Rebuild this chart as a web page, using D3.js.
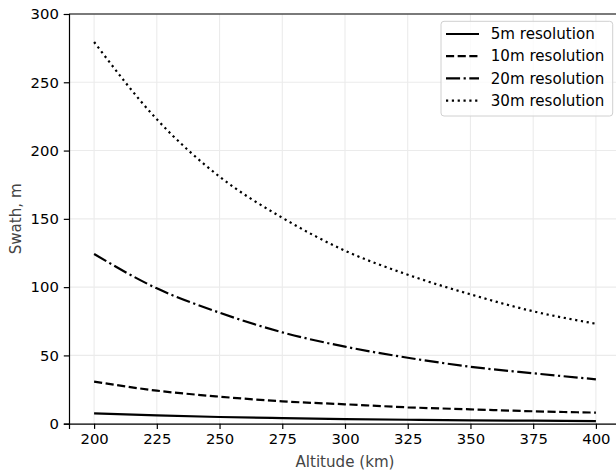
<!DOCTYPE html>
<html>
<head>
<meta charset="utf-8">
<script src="https://cdn.jsdelivr.net/npm/d3@7"></script>
<style>
  body { margin: 0; background: #fff; }
  svg { display: block; font-family: "DejaVu Sans", sans-serif; }
</style>
</head>
<body>
<div id="container"></div>
<script>
// Data
const altitudes = [200, 225, 250, 275, 300, 325, 350, 375, 400];
const swath5m = [7.6, 6.1, 4.9, 4.1, 3.4, 2.9, 2.5, 2.2, 1.9];
const swath10m = [30.8, 24.2, 19.8, 16.4, 14.2, 12.0, 10.5, 9.1, 8.1];
const swath20m = [124.3, 99.1, 81.3, 66.9, 56.4, 48.3, 41.7, 36.9, 32.5];
const swath30m = [279.5, 222.9, 180.9, 150.8, 126.7, 109.1, 94.7, 82.3, 73.2];
const seriesNames = ["5m resolution", "10m resolution", "20m resolution", "30m resolution"];
const xTicks = [200, 225, 250, 275, 300, 325, 350, 375, 400];
const yTicks = [0, 50, 100, 150, 200, 250, 300];

const width = 616;
const height = 473;
const marginTop = 14;
const marginRight = -5; // right spine falls just outside the picture
const marginBottom = 49.3;
const marginLeft = 69;
const tickFont = 14.8;
const textFont = 15.1;
const lw = 2.2;

// dash patterns, matplotlib style scaled by line width
const dashes = [
  null,
  [3.7 * lw, 1.6 * lw],
  [6.4 * lw, 1.6 * lw, 1 * lw, 1.6 * lw],
  [1 * lw, 1.65 * lw],
];

const series = [swath5m, swath10m, swath20m, swath30m].map((vals, i) => ({
  name: seriesNames[i],
  dash: dashes[i],
  points: vals.map((v, j) => ({ x: altitudes[j], y: v })),
}));

const svg = d3.create("svg").attr("width", width).attr("height", height);

const x = d3.scaleLinear()
  .domain([190, 410])
  .range([marginLeft, width - marginRight]);

const y = d3.scaleLinear()
  .domain([0, 300])
  .range([height - marginBottom, marginTop]);

// Grid
const grid = svg.append("g").attr("stroke", "#ebebeb").attr("stroke-width", 1.1);
grid.selectAll("line.v").data(xTicks).join("line")
  .attr("x1", (d) => x(d)).attr("x2", (d) => x(d))
  .attr("y1", y(0)).attr("y2", y(300));
grid.selectAll("line.h").data(yTicks).join("line")
  .attr("y1", (d) => y(d)).attr("y2", (d) => y(d))
  .attr("x1", x(190)).attr("x2", x(410));

// Lines (smooth curves through the read points)
const line = d3.line()
  .x((d) => x(d.x))
  .y((d) => y(d.y))
  .curve(d3.curveMonotoneX);
svg.append("g")
  .selectAll("path")
  .data(series)
  .join("path")
  .attr("fill", "none")
  .attr("stroke", "#000")
  .attr("stroke-width", lw)
  .attr("stroke-dasharray", (d) => (d.dash ? d.dash.join(",") : null))
  .attr("d", (d) => line(d.points));

// Axes
const xAxis = svg.append("g")
  .attr("transform", `translate(0,${y(0)})`)
  .call(d3.axisBottom(x).tickValues(xTicks).tickSize(5.2).tickPadding(5));
const yAxis = svg.append("g")
  .attr("transform", `translate(${marginLeft},0)`)
  .call(d3.axisLeft(y).tickValues(yTicks).tickSize(5.2).tickPadding(5));

[xAxis, yAxis].forEach((g) => {
  g.attr("font-family", null).attr("font-size", null);
  g.select(".domain").attr("stroke", "#000").attr("stroke-width", 1.2);
  g.selectAll(".tick line").attr("stroke", "#000").attr("stroke-width", 1.2);
  g.selectAll(".tick text")
    .attr("fill", "#000")
    .style("font-size", tickFont + "px");
});

// Top spine
svg.append("line")
  .attr("x1", x(190)).attr("x2", x(410))
  .attr("y1", y(300)).attr("y2", y(300))
  .attr("stroke", "#000").attr("stroke-width", 1.2);

// Axis labels
svg.append("text")
  .attr("x", (x(190) + x(410)) / 2)
  .attr("y", 466.7)
  .attr("text-anchor", "middle")
  .attr("fill", "#444")
  .style("font-size", textFont + "px")
  .text("Altitude (km)");

svg.append("text")
  .attr("transform", `translate(20.5,${(y(0) + y(300)) / 2}) rotate(-90)`)
  .attr("text-anchor", "middle")
  .attr("fill", "#444")
  .style("font-size", textFont + "px")
  .text("Swath, m");

// Legend
const legend = svg.append("g").attr("transform", "translate(441,21.3)");
legend.append("rect")
  .attr("width", 171.7).attr("height", 94.7)
  .attr("rx", 3)
  .attr("fill", "#fff").attr("fill-opacity", 0.8)
  .attr("stroke", "#d0d0d0").attr("stroke-width", 1);

const rows = legend.selectAll("g.row")
  .data(series)
  .join("g")
  .attr("transform", (d, i) => `translate(0,${12.7 + i * 22.2})`);
rows.append("line")
  .attr("x1", 5).attr("x2", 38)
  .attr("stroke", "#000").attr("stroke-width", lw)
  .attr("stroke-dasharray", (d) => (d.dash ? d.dash.join(",") : null));
rows.append("text")
  .attr("x", 49.7)
  .attr("dy", "0.35em")
  .attr("fill", "#000")
  .style("font-size", textFont + "px")
  .text((d) => d.name);

document.getElementById("container").append(svg.node());
</script>
</body>
</html>
